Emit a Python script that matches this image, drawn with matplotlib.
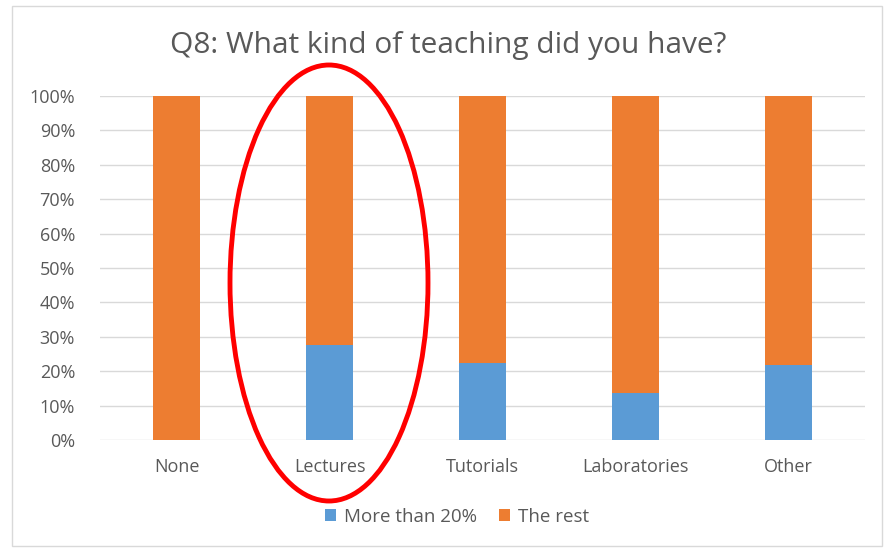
import matplotlib.pyplot as plt
from matplotlib.patches import Ellipse, Rectangle
import numpy as np

categories = ['None', 'Lectures', 'Tutorials', 'Laboratories', 'Other']
more_than_20 = [0, 27.5, 22.3, 13.8, 21.7]
the_rest = [100 - v for v in more_than_20]

blue = '#5B9BD5'
orange = '#ED7D31'
text_col = '#595959'

plt.rcParams['font.family'] = ['Open Sans', 'DejaVu Sans']

fig = plt.figure(figsize=(8.96, 5.51), dpi=100)
ax = fig.add_axes([100 / 896, 1 - 440 / 551, (865 - 100) / 896, 344 / 551])

x = np.arange(len(categories))
ax.bar(x, more_than_20, width=0.31, color=blue, label='More than 20%', zorder=3)
ax.bar(x, the_rest, width=0.31, bottom=more_than_20, color=orange, label='The rest', zorder=3)

ax.set_xlim(-0.5, len(categories) - 0.5)
ax.set_ylim(0, 100)
ax.set_yticks(np.arange(0, 101, 10))
ax.set_yticklabels([f'{v}%' for v in range(0, 101, 10)])
ax.set_xticks(x)
ax.set_xticklabels(categories)
ax.tick_params(length=0, colors=text_col, labelsize=13)
ax.tick_params(axis='x', pad=13)
ax.tick_params(axis='y', pad=18)
ax.grid(axis='y', color='#D9D9D9', linewidth=1, zorder=0)
for s in ax.spines.values():
    s.set_visible(False)

fig.text(0.5, 1 - 45 / 551, 'Q8: What kind of teaching did you have?', ha='center', va='center',
         fontsize=21.5, color=text_col)

fig.legend(loc='center', bbox_to_anchor=(457 / 896, 1 - 517 / 551), ncol=2, frameon=False,
           fontsize=13.5, labelcolor=text_col, handlelength=0.6, handleheight=0.6,
           columnspacing=1.2, handletextpad=0.4)

# chart frame
fig.patches.append(Rectangle((12 / 896, 1 - 546 / 551), 870 / 896, 540 / 551,
                             transform=fig.transFigure, fill=False, edgecolor='#D9D9D9', lw=1))

# red annotation ellipse round Lectures
fig.patches.append(Ellipse((329 / 896, 1 - 283 / 551), 198 / 896, 436 / 551,
                           transform=fig.transFigure, fill=False, edgecolor='#FF0000', lw=3.5,
                           zorder=10))

fig.savefig('out.png', dpi=100)
